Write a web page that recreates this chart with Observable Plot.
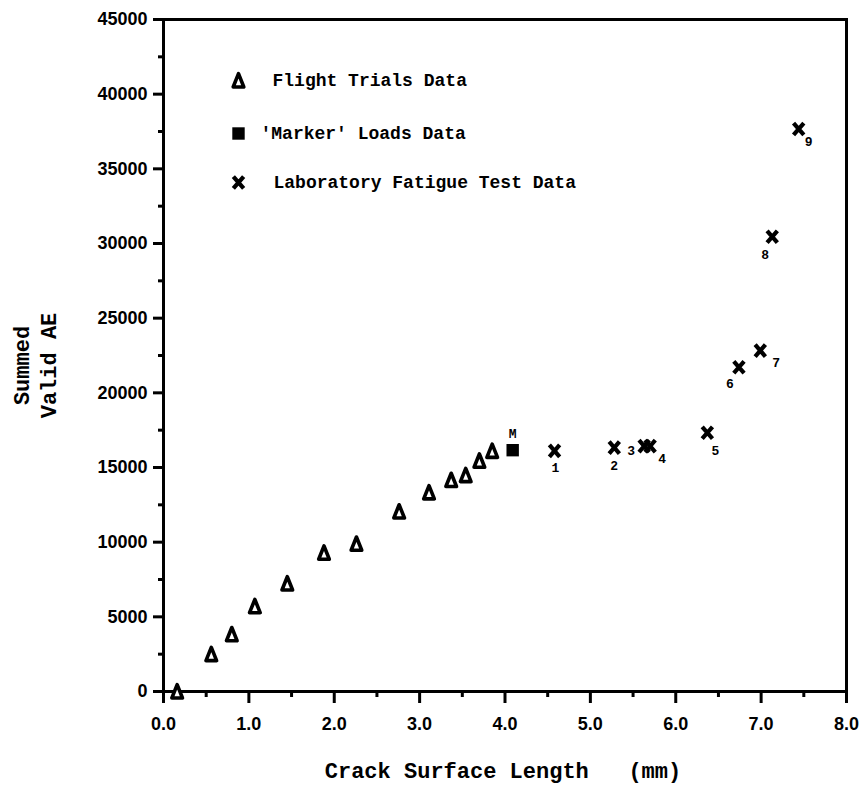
<!DOCTYPE html>
<html>
<head>
<meta charset="utf-8">
<script src="https://cdn.jsdelivr.net/npm/d3@7"></script>
<script src="https://cdn.jsdelivr.net/npm/@observablehq/plot@0.6"></script>
<style>
  html, body { margin: 0; padding: 0; background: #fff; }
  #chart svg { display: block; }
  g[aria-label="axis-title"] text { letter-spacing: 1px; }
  g[aria-label="y-axis tick"], g[aria-label="x-axis tick"],
  g[aria-label="y-axis tick"] path, g[aria-label="x-axis tick"] path { stroke-width: 3px; stroke: #000; }
</style>
</head>
<body>
<div id="chart"></div>
<script>
// ---- Data ----
const flightX = [0.16, 0.56, 0.80, 1.07, 1.45, 1.88, 2.26, 2.76, 3.11, 3.37, 3.54, 3.70, 3.85];
const flightY = [0, 2500, 3830, 5710, 7230, 9290, 9890, 12050, 13330, 14160, 14490, 15450, 16110];

const markerX = [4.09];
const markerY = [16160];
const markerId = ["M"];

const labX = [4.58, 5.28, 5.63, 5.70, 6.37, 6.74, 6.99, 7.13, 7.44];
const labY = [16110, 16330, 16430, 16430, 17330, 21710, 22830, 30450, 37670];
const labId = ["1", "2", "3", "4", "5", "6", "7", "8", "9"];

const xMajor = [0, 1, 2, 3, 4, 5, 6, 7, 8];
const xMinor = [0.5, 1.5, 2.5, 3.5, 4.5, 5.5, 6.5, 7.5];
const yMajor = [0, 5000, 10000, 15000, 20000, 25000, 30000, 35000, 40000, 45000];
const yMinor = [2500, 7500, 12500, 17500, 22500, 27500, 32500, 37500, 42500];

const legendLabels = ["Flight Trials Data", "'Marker' Loads Data", "Laboratory Fatigue Test Data"];
const xTitle = "Crack Surface Length\u00a0\u00a0\u00a0(mm)";
const yTitle = "Summed\nValid AE";

// ---- Styling (pixel offsets, sizes) ----
const labelOffset = {
  M: [0, -16], "1": [1, 17], "2": [0, 18], "3": [-13, 5], "4": [12, 13],
  "5": [8, 18], "6": [-9, 17], "7": [16, 12], "8": [-7, 18], "9": [10, 13]
};
const legendSymbolOffset = [[75, 61], [75, 114], [75, 163]];
const legendTextDx = [109, 97, 110];

const mono = "'Liberation Mono', 'DejaVu Sans Mono', monospace";
const sans = "'Liberation Sans', Arial, sans-serif";

// custom symbols
const triSym = {
  draw(ctx, size) {
    const r = Math.sqrt(size / Math.PI);
    ctx.moveTo(0, -r);
    ctx.lineTo(0.78 * r, 0.95 * r);
    ctx.lineTo(-0.78 * r, 0.95 * r);
    ctx.closePath();
  }
};
const xSym = {
  draw(ctx, size) {
    const r = Math.sqrt(size / Math.PI);
    const a = 0.78 * r, b = 0.9 * r;
    ctx.moveTo(-a, -b); ctx.lineTo(a, b);
    ctx.moveTo(-a, b); ctx.lineTo(a, -b);
  }
};

// tables
const flight = flightX.map((x, i) => ({x, y: flightY[i]}));
const marker = markerX.map((x, i) => ({x, y: markerY[i], id: markerId[i]}));
const lab = labX.map((x, i) => ({x, y: labY[i], id: labId[i]}));

const triStyle = {symbol: triSym, r: 6.8, stroke: "black", fill: "white", strokeWidth: 3.6, strokeLinejoin: "round"};
const sqStyle = {symbol: "square", r: 7, fill: "black", stroke: "none"};
const xStyle = {symbol: xSym, r: 6.6, stroke: "black", fill: "none", strokeWidth: 4.2};

const labelMarks = [...marker, ...lab].map(d => Plot.text([d], {
  x: "x", y: "y", text: "id",
  dx: labelOffset[d.id][0], dy: labelOffset[d.id][1],
  fontFamily: mono, fontWeight: "bold", fontSize: 13, fill: "black", lineAnchor: "middle"
}));

const legendSymbols = [triStyle, sqStyle, xStyle];
const legendMarks = legendLabels.flatMap((t, i) => [
  Plot.dot([t], {frameAnchor: "top-left", dx: legendSymbolOffset[i][0], dy: legendSymbolOffset[i][1], ...legendSymbols[i]}),
  Plot.text([t], {frameAnchor: "top-left", dx: legendTextDx[i], dy: legendSymbolOffset[i][1],
    text: d => d, textAnchor: "start", lineAnchor: "middle",
    fontFamily: mono, fontWeight: "bold", fontSize: 18, fill: "black"})
]);

const chart = Plot.plot({
  width: 862,
  height: 790,
  marginLeft: 163,
  marginRight: 16,
  marginTop: 19,
  marginBottom: 99,
  style: {background: "white", color: "black"},
  x: {domain: [0, 8], label: null},
  y: {domain: [0, 45000], label: null},
  marks: [
    Plot.axisY(yMinor, {tickSize: 5, tickFormat: () => "", strokeWidth: 3, label: null}),
    Plot.axisY(yMajor, {tickSize: 10, tickPadding: 6, tickFormat: d => String(d), strokeWidth: 3,
      fontSize: 18, fontWeight: "bold", fontFamily: sans, label: null}),
    Plot.axisX(xMinor, {tickSize: 6, tickFormat: () => "", strokeWidth: 3, label: null}),
    Plot.axisX(xMajor, {tickSize: 12, tickPadding: 14, tickFormat: d3.format(".1f"), strokeWidth: 3,
      fontSize: 18, fontWeight: "bold", fontFamily: sans, label: null}),
    Plot.frame({stroke: "black", strokeWidth: 3}),
    Plot.dot(flight, {x: "x", y: "y", ...triStyle}),
    Plot.dot(marker, {x: "x", y: "y", ...sqStyle}),
    Plot.dot(lab, {x: "x", y: "y", ...xStyle}),
    ...labelMarks,
    ...legendMarks,
    Plot.text([xTitle], {frameAnchor: "bottom", dy: 79, dx: -2, text: d => d, lineAnchor: "middle",
      fontFamily: mono, fontWeight: "bold", fontSize: 22, fill: "black", ariaLabel: "axis-title"}),
    Plot.text([yTitle], {frameAnchor: "left", dx: -130, dy: 10, rotate: -90, text: d => d,
      lineAnchor: "middle", textAnchor: "middle", lineHeight: 1.22,
      fontFamily: mono, fontWeight: "bold", fontSize: 22, fill: "black", ariaLabel: "axis-title"})
  ]
});
document.getElementById("chart").appendChild(chart);
</script>
</body>
</html>
